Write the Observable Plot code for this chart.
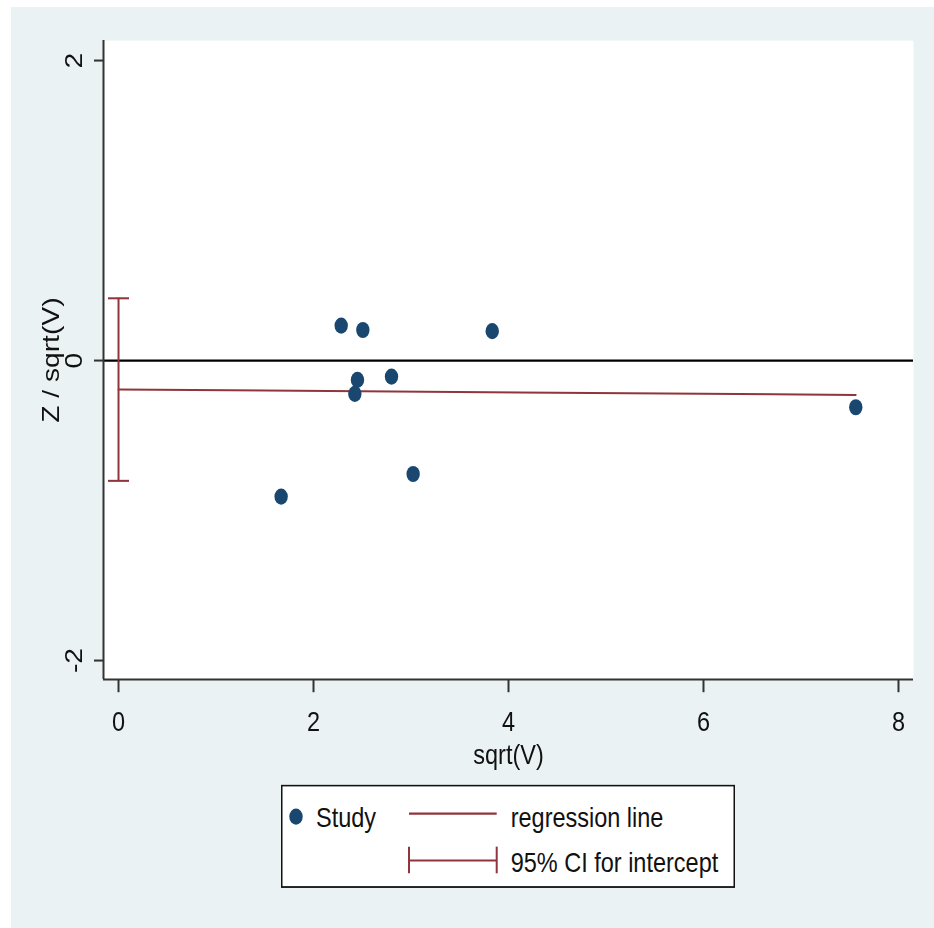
<!DOCTYPE html>
<html>
<head>
<meta charset="utf-8">
<script src="https://cdn.jsdelivr.net/npm/d3@7"></script>
<script src="https://cdn.jsdelivr.net/npm/@observablehq/plot@0.6"></script>
<style>
  html, body { margin: 0; padding: 0; background: #ffffff; }
  body { width: 934px; height: 928px; overflow: hidden; position: relative;
         font-family: "Liberation Sans", Arial, sans-serif; }
  #panel { position: absolute; left: 11px; top: 7px; width: 923px; height: 921px;
           background: #eaf2f3; overflow: hidden; }
  #stretch { position: absolute; left: 0; top: 0; width: 923px; height: 768px;
             transform: scaleY(1.2); transform-origin: 0 0; }
  #chart { position: absolute; left: 0; top: 0; }
  #legend { position: absolute; left: 270px; top: 647.8px; }
</style>
</head>
<body>
<div id="panel"><div id="stretch"><div id="chart"></div><div id="legend"></div></div></div>
<script>
// ---- data ----
const sqrtV      = [2.284, 2.506, 3.833, 2.800, 2.451, 2.424, 3.022, 1.668, 7.562];
const zOverSqrtV = [0.233, 0.204, 0.196, -0.107, -0.129, -0.222, -0.756, -0.907, -0.311];
const regX = [0, 7.562];
const regY = [-0.193, -0.229];
const ciX = [0];
const ciLow = [-0.802];
const ciHigh = [0.415];
const xTicks = [0, 2, 4, 6, 8];
const yTicks = [-2, 0, 2];
const yTickLabels = ["-2", "0", "2"];
const xDomain = [-0.154, 8.154];
const yDomain = [-2.127, 2.133];
const xTitle = "sqrt(V)";
const yTitle = "Z / sqrt(V)";
const legendLabels = ["Study", "regression line", "95% CI for intercept"];

// ---- styling ----
const navy = "#1a476f";
const maroon = "#90353b";
const axisColor = "#333333";
const textColor = "#111111";
const fs = 23.5;

const points = sqrtV.map((x, i) => ({x, y: zOverSqrtV[i]}));
const reg = regX.map((x, i) => ({x, y: regY[i]}));
const ci = ciX.map((x, i) => ({x, lo: ciLow[i], hi: ciHigh[i]}));

const capSymbol = {
  draw(context) { context.moveTo(-10.5, 0); context.lineTo(10.5, 0); }
};

const chart = Plot.plot({
  width: 923,
  height: 640,
  marginLeft: 92,
  marginRight: 21,
  marginTop: 27.5,
  marginBottom: 80,
  x: {domain: xDomain},
  y: {domain: yDomain},
  style: {
    background: "transparent",
    fontFamily: "'Liberation Sans', Arial, sans-serif",
    fontSize: fs + "px",
    color: textColor,
    overflow: "visible"
  },
  marks: [
    Plot.frame({fill: "white", stroke: "none"}),
    Plot.ruleY([0], {stroke: "black", strokeWidth: 1.8}),
    Plot.ruleX(ci, {x: "x", y1: "lo", y2: "hi", stroke: maroon, strokeWidth: 2}),
    Plot.dot(ci, {x: "x", y: "lo", symbol: capSymbol, fill: "none", stroke: maroon, strokeWidth: 1.7}),
    Plot.dot(ci, {x: "x", y: "hi", symbol: capSymbol, fill: "none", stroke: maroon, strokeWidth: 1.7}),
    Plot.line(reg, {x: "x", y: "y", stroke: maroon, strokeWidth: 1.7}),
    Plot.dot(points, {x: "x", y: "y", r: 6.7, fill: navy, stroke: "none"}),
    Plot.ruleX([xDomain[0]], {stroke: axisColor, strokeWidth: 2}),
    Plot.ruleY([yDomain[0]], {stroke: axisColor, strokeWidth: 1.7}),
    Plot.axisX({ticks: xTicks, tickSize: 11, tickPadding: 15, label: null,
                stroke: axisColor, strokeWidth: 2, fill: textColor, fontSize: fs}),
    Plot.axisY({ticks: yTicks, tickSize: 9, label: null, fill: "none",
                stroke: axisColor, strokeWidth: 1.7}),
    Plot.text(yTicks, {y: d => d, text: (d, i) => yTickLabels[i], frameAnchor: "left",
                       dx: -21.3, rotate: -90, textAnchor: "middle", lineAnchor: "bottom",
                       fontSize: fs, fill: textColor}),
    Plot.text([yTitle], {text: d => d, frameAnchor: "left", dx: -52, rotate: -90,
                         textAnchor: "middle", lineAnchor: "middle", fontSize: fs, fill: textColor}),
    Plot.text([xTitle], {text: d => d, frameAnchor: "bottom", dy: 62.5,
                         textAnchor: "middle", lineAnchor: "middle", fontSize: fs, fill: textColor})
  ]
});
document.getElementById("chart").appendChild(chart);

// ---- legend (below the plot) ----
const lw = 454, lh = 86.1;
const lg = d3.select("#legend").append("svg")
  .attr("width", lw).attr("height", lh)
  .style("overflow", "visible")
  .style("font-family", "'Liberation Sans', Arial, sans-serif")
  .style("font-size", fs + "px");
lg.append("rect").attr("x", 0.75).attr("y", 0.75).attr("width", lw - 1.5).attr("height", lh - 1.5)
  .attr("fill", "white").attr("stroke", "#111").attr("stroke-width", 1.5);
lg.append("circle").attr("cx", 15).attr("cy", 26.7).attr("r", 6.7).attr("fill", navy);
lg.append("text").attr("x", 35).attr("y", 35.4).attr("fill", textColor).text(legendLabels[0]);
lg.append("line").attr("x1", 128).attr("x2", 215.7).attr("y1", 24.2).attr("y2", 24.2)
  .attr("stroke", maroon).attr("stroke-width", 1.7);
lg.append("text").attr("x", 229.7).attr("y", 35.4).attr("fill", textColor).text(legendLabels[1]);
lg.append("line").attr("x1", 128).attr("x2", 215.7).attr("y1", 63.3).attr("y2", 63.3)
  .attr("stroke", maroon).attr("stroke-width", 1.7);
lg.append("line").attr("x1", 128).attr("x2", 128).attr("y1", 51.7).attr("y2", 73.9)
  .attr("stroke", maroon).attr("stroke-width", 2);
lg.append("line").attr("x1", 215.7).attr("x2", 215.7).attr("y1", 51.7).attr("y2", 73.9)
  .attr("stroke", maroon).attr("stroke-width", 2);
lg.append("text").attr("x", 229.7).attr("y", 73.1).attr("fill", textColor).text(legendLabels[2]);
</script>
</body>
</html>
